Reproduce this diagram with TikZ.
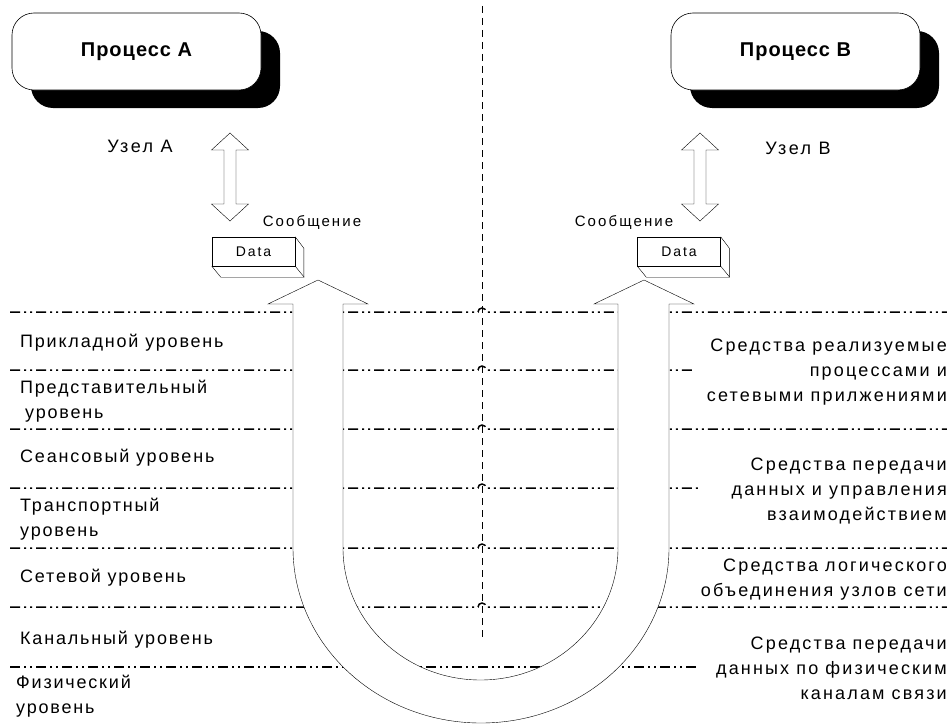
\documentclass[tikz,border=0pt]{standalone}
\usepackage{fontspec}
\setmainfont{Liberation Sans}[LetterSpace=10]
\usetikzlibrary{shadows}

\begin{document}
\begin{tikzpicture}[x=1pt, y=-1pt,
% Process style
		process/.style={rectangle
							    , rounded corners=22pt
							    , fill=white
							    , draw=black, semithick
							    , minimum width=249pt
							    , minimum height=77pt
							    , font=\fontsize{20}{22}\bfseries\addfontfeatures{LetterSpace=5}\selectfont
							    , drop shadow={shadow xshift=19pt, shadow yshift=-18pt, fill=black, opacity=1}},
		databox/.style={rectangle
							    , fill=white
							    , draw=black
							    , minimum width=83pt
							    , minimum height=29pt
							    , inner sep=0pt
							    , font=\fontsize{14}{16}\addfontfeatures{LetterSpace=14}\selectfont},
% Texts style
		level/.style={inner sep=0pt, anchor=west, align=left, font=\fontsize{18}{25}\selectfont},
		means/.style={inner sep=0pt, anchor=east, align=right, font=\fontsize{18}{25}\addfontfeatures{LetterSpace=12}\selectfont},
		caption/.style={inner sep=0pt, font=\fontsize{18}{20}\addfontfeatures{LetterSpace=14}\selectfont},
		msg/.style={inner sep=0pt, font=\fontsize{15}{18}\addfontfeatures{LetterSpace=14}\selectfont},
% Lines style
		border/.style={line width=1.5pt
							    , dash pattern=on 10pt off 4pt on 2pt off 4pt on 2pt off 4pt},
		divider/.style={thin, dash pattern=on 7pt off 5pt},
		fatarrow/.style={fill=white, draw=black, thin}
	]
	\useasboundingbox (0,0) rectangle (947,725);
%% Processes and nodes
	\node [process] (pA) at (136.5,51.5) {Процесс A};
	\node [process] (pB) at (795.5,51.5) {Процесс B};
	\node [caption] (uA) at (140,146) {Узел A};
	\node [caption] (uB) at (798,148) {Узел B};
	\foreach \x in {230,700}
		\draw [fatarrow] (\x,133) -- ++(18.5,17) -- ++(-12.5,0) -- ++(0,54) -- ++(12.5,0) -- ++(-18.5,17)
			-- ++(-18.5,-17) -- ++(12.5,0) -- ++(0,-54) -- ++(-12.5,0) -- cycle;
%% Messages
	\node [msg] (mA) at (312,222) {Сообщение};
	\node [msg] (mB) at (624,222) {Сообщение};
	\node [databox] (dA) at (253.5,251.5) {Data};
	\node [databox] (dB) at (679,251.5) {Data};
	\foreach \d in {dA,dB} {
		\draw (\d.south west) -- ++(9,11) -- ++(83,0) -- ++(0,-29) -- (\d.north east);
		\draw (\d.south east) -- ++(9,11);
	}
%% Level borders
	\draw [divider] (482,6) -- (482,637);
	\foreach \y/\xr in {312/947, 370/693, 429/947, 488/700, 548/947, 607/947}
		\draw [border] (10,\y) -- (478,\y) arc[start angle=180, end angle=360, radius=4] -- (\xr,\y);
	\draw [border] (10,667) -- (698,667);
%% U-turn arrow
	\draw [fatarrow] (293,548) -- (293,304) -- (268,304) -- (318,280) -- (368,304) -- (343,304) -- (343,548)
		arc[start angle=180, end angle=0, x radius=137.5, y radius=132]
		-- (618,304) -- (594,304) -- (644,280) -- (694,304) -- (669,304) -- (669,548)
		arc[start angle=0, end angle=180, x radius=188, y radius=175] -- cycle;
%% Levels
	\node [level] (l7) at (20,343) {Прикладной уровень};
	\node [level] (l6) at (20,401) {Представительный\\\hspace{5pt}уровень};
	\node [level] (l5) at (20,458) {Сеансовый уровень};
	\node [level] (l4) at (20,519.5) {Транспортный\\уровень};
	\node [level] (l3) at (20,578) {Сетевой уровень};
	\node [level] (l2) at (20,640) {Канальный уровень};
	\node [level] (l1) at (16,696) {Физический\\уровень};
%% Means
	\node [means] (s1) at (947,372) {Средства реализуемые\\процессами и\\сетевыми прилжениями};
	\node [means] (s2) at (947,491) {Средства передачи\\данных и управления\\взаимодействием};
	\node [means] (s3) at (947,580) {Средства логического\\объединения узлов сети};
	\node [means] (s4) at (947,668) {Средства передачи\\данных по физическим\\каналам связи};
\end{tikzpicture}
\end{document}
